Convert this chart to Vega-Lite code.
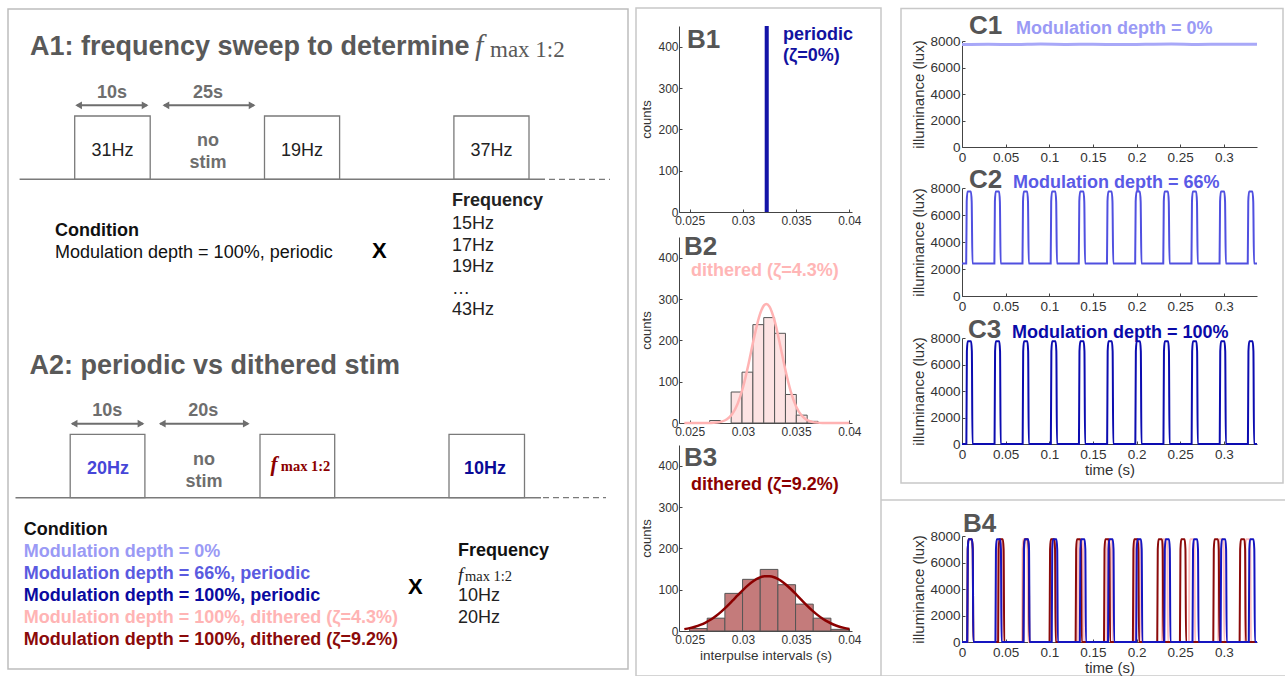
{
"$schema":"https://vega.github.io/schema/vega-lite/v6.json",
"background":"white",
"padding":{"left":7,"top":6,"right":0,"bottom":0},
"bounds":"flush","spacing":51,
"hconcat":[
{"width":620,"height":660,"view":{"stroke":"#bdbdbd","strokeWidth":1.5},"data":{"values":[{}]},
"layer":[
{"mark":{"type":"rect","filled":false,"stroke":"#c8c8c8","strokeWidth":1.5},"encoding":{"x":{"datum":62.8,"type":"quantitative","scale":{"domain":[0,62],"nice":false,"zero":false},"axis":null},"x2":{"datum":87.3},"y":{"datum":-0.1,"type":"quantitative","scale":{"domain":[0,66],"reverse":true,"nice":false,"zero":false},"axis":null},"y2":{"datum":66.7}}},
{"mark":{"type":"rule","stroke":"#c8c8c8","strokeWidth":1.5},"encoding":{"x":{"datum":87.3,"axis":null},"x2":{"datum":127.7},"y":{"datum":49.1,"axis":null}}},
{"mark":{"type":"rule","stroke":"#c8c8c8","strokeWidth":1.5},"encoding":{"x":{"datum":87.3,"axis":null},"x2":{"datum":127.7},"y":{"datum":66.7,"axis":null}}},
{"mark":{"type":"rect","filled":false,"stroke":"#c8c8c8","strokeWidth":1.5},"encoding":{"x":{"datum":89.3,"axis":null},"x2":{"datum":127.5},"y":{"datum":-0.05,"axis":null},"y2":{"datum":47.4}}},

{"mark":{"type":"text","text":"A1: frequency sweep to determine","fontSize":27,"fontWeight":"bold","color":"#595959"},"encoding":{"x":{"datum":2.2,"axis":null},"y":{"datum":4.55,"axis":null}}},
{"mark":{"type":"text","text":"f","font":"Liberation Serif","fontStyle":"italic","fontSize":30,"color":"#595959"},"encoding":{"x":{"datum":46.7,"axis":null},"y":{"datum":4.55,"axis":null}}},
{"mark":{"type":"text","text":"max 1:2","font":"Liberation Serif","fontSize":23,"color":"#595959"},"encoding":{"x":{"datum":48.2,"axis":null},"y":{"datum":4.75,"axis":null}}},
{"mark":{"type":"text","text":"10s","fontSize":18,"fontWeight":"bold","color":"#6e6e6e","align":"center"},"encoding":{"x":{"datum":10.4,"axis":null},"y":{"datum":8.9,"axis":null}}},
{"mark":{"type":"text","text":"25s","fontSize":18,"fontWeight":"bold","color":"#6e6e6e","align":"center"},"encoding":{"x":{"datum":20.0,"axis":null},"y":{"datum":8.9,"axis":null}}},
{"mark":{"type":"rule","stroke":"#6e6e6e","strokeWidth":2},"encoding":{"x":{"datum":6.9,"axis":null},"x2":{"datum":13.9},"y":{"datum":9.63,"axis":null}}},
{"mark":{"type":"point","shape":"triangle-left","filled":true,"color":"#6e6e6e","size":60,"opacity":1},"encoding":{"x":{"datum":7.06,"axis":null},"y":{"datum":9.63,"axis":null}}},
{"mark":{"type":"point","shape":"triangle-right","filled":true,"color":"#6e6e6e","size":60,"opacity":1},"encoding":{"x":{"datum":13.71,"axis":null},"y":{"datum":9.63,"axis":null}}},
{"mark":{"type":"rule","stroke":"#6e6e6e","strokeWidth":2},"encoding":{"x":{"datum":15.6,"axis":null},"x2":{"datum":24.6},"y":{"datum":9.63,"axis":null}}},
{"mark":{"type":"point","shape":"triangle-left","filled":true,"color":"#6e6e6e","size":60,"opacity":1},"encoding":{"x":{"datum":15.79,"axis":null},"y":{"datum":9.63,"axis":null}}},
{"mark":{"type":"point","shape":"triangle-right","filled":true,"color":"#6e6e6e","size":60,"opacity":1},"encoding":{"x":{"datum":24.41,"axis":null},"y":{"datum":9.63,"axis":null}}},
{"mark":{"type":"rect","filled":false,"stroke":"#7a7a7a","strokeWidth":1.3},"encoding":{"x":{"datum":6.67,"axis":null},"x2":{"datum":14.22},"y":{"datum":10.7,"axis":null},"y2":{"datum":17.03}}},
{"mark":{"type":"rect","filled":false,"stroke":"#7a7a7a","strokeWidth":1.3},"encoding":{"x":{"datum":25.65,"axis":null},"x2":{"datum":33.16},"y":{"datum":10.7,"axis":null},"y2":{"datum":17.03}}},
{"mark":{"type":"rect","filled":false,"stroke":"#7a7a7a","strokeWidth":1.3},"encoding":{"x":{"datum":44.59,"axis":null},"x2":{"datum":52.1},"y":{"datum":10.7,"axis":null},"y2":{"datum":17.03}}},
{"mark":{"type":"text","text":"31Hz","fontSize":18,"color":"#222222","align":"center"},"encoding":{"x":{"datum":10.45,"axis":null},"y":{"datum":14.7,"axis":null}}},
{"mark":{"type":"text","text":"19Hz","fontSize":18,"color":"#222222","align":"center"},"encoding":{"x":{"datum":29.4,"axis":null},"y":{"datum":14.7,"axis":null}}},
{"mark":{"type":"text","text":"37Hz","fontSize":18,"color":"#222222","align":"center"},"encoding":{"x":{"datum":48.35,"axis":null},"y":{"datum":14.7,"axis":null}}},
{"mark":{"type":"text","text":"no","fontSize":18,"fontWeight":"bold","color":"#6e6e6e","align":"center"},"encoding":{"x":{"datum":20.0,"axis":null},"y":{"datum":13.7,"axis":null}}},
{"mark":{"type":"text","text":"stim","fontSize":18,"fontWeight":"bold","color":"#6e6e6e","align":"center"},"encoding":{"x":{"datum":20.0,"axis":null},"y":{"datum":15.9,"axis":null}}},
{"mark":{"type":"rule","stroke":"#7a7a7a","strokeWidth":1.5},"encoding":{"x":{"datum":1.16,"axis":null},"x2":{"datum":53.7},"y":{"datum":17.03,"axis":null}}},
{"mark":{"type":"rule","stroke":"#7a7a7a","strokeWidth":1.3,"strokeDash":[6,4]},"encoding":{"x":{"datum":54.1,"axis":null},"x2":{"datum":60.2},"y":{"datum":17.03,"axis":null}}},
{"mark":{"type":"text","text":"Frequency","fontSize":18,"fontWeight":"bold","color":"#222222"},"encoding":{"x":{"datum":44.4,"axis":null},"y":{"datum":19.7,"axis":null}}},
{"mark":{"type":"text","text":["15Hz","17Hz","19Hz","…","43Hz"],"lineHeight":21.5,"fontSize":18,"color":"#222222"},"encoding":{"x":{"datum":44.4,"axis":null},"y":{"datum":22.0,"axis":null}}},
{"mark":{"type":"text","text":"Condition","fontSize":18,"fontWeight":"bold","color":"#111111"},"encoding":{"x":{"datum":4.7,"axis":null},"y":{"datum":22.7,"axis":null}}},
{"mark":{"type":"text","text":"Modulation depth = 100%, periodic","fontSize":18,"color":"#111111"},"encoding":{"x":{"datum":4.7,"axis":null},"y":{"datum":24.85,"axis":null}}},
{"mark":{"type":"text","text":"X","fontSize":22,"fontWeight":"bold","color":"#000000"},"encoding":{"x":{"datum":36.4,"axis":null},"y":{"datum":24.9,"axis":null}}},

{"mark":{"type":"text","text":"A2: periodic vs dithered stim","fontSize":27,"fontWeight":"bold","color":"#595959"},"encoding":{"x":{"datum":2.14,"axis":null},"y":{"datum":36.53,"axis":null}}},
{"mark":{"type":"text","text":"10s","fontSize":18,"fontWeight":"bold","color":"#6e6e6e","align":"center"},"encoding":{"x":{"datum":9.93,"axis":null},"y":{"datum":40.7,"axis":null}}},
{"mark":{"type":"text","text":"20s","fontSize":18,"fontWeight":"bold","color":"#6e6e6e","align":"center"},"encoding":{"x":{"datum":19.53,"axis":null},"y":{"datum":40.7,"axis":null}}},
{"mark":{"type":"rule","stroke":"#6e6e6e","strokeWidth":2},"encoding":{"x":{"datum":6.4,"axis":null},"x2":{"datum":13.5},"y":{"datum":41.47,"axis":null}}},
{"mark":{"type":"point","shape":"triangle-left","filled":true,"color":"#6e6e6e","size":60,"opacity":1},"encoding":{"x":{"datum":6.61,"axis":null},"y":{"datum":41.47,"axis":null}}},
{"mark":{"type":"point","shape":"triangle-right","filled":true,"color":"#6e6e6e","size":60,"opacity":1},"encoding":{"x":{"datum":13.3,"axis":null},"y":{"datum":41.47,"axis":null}}},
{"mark":{"type":"rule","stroke":"#6e6e6e","strokeWidth":2},"encoding":{"x":{"datum":15.2,"axis":null},"x2":{"datum":24.0},"y":{"datum":41.47,"axis":null}}},
{"mark":{"type":"point","shape":"triangle-left","filled":true,"color":"#6e6e6e","size":60,"opacity":1},"encoding":{"x":{"datum":15.43,"axis":null},"y":{"datum":41.47,"axis":null}}},
{"mark":{"type":"point","shape":"triangle-right","filled":true,"color":"#6e6e6e","size":60,"opacity":1},"encoding":{"x":{"datum":23.83,"axis":null},"y":{"datum":41.47,"axis":null}}},
{"mark":{"type":"rect","filled":false,"stroke":"#7a7a7a","strokeWidth":1.3},"encoding":{"x":{"datum":6.22,"axis":null},"x2":{"datum":13.69},"y":{"datum":42.53,"axis":null},"y2":{"datum":48.87}}},
{"mark":{"type":"rect","filled":false,"stroke":"#7a7a7a","strokeWidth":1.3},"encoding":{"x":{"datum":25.2,"axis":null},"x2":{"datum":32.67},"y":{"datum":42.53,"axis":null},"y2":{"datum":48.87}}},
{"mark":{"type":"rect","filled":false,"stroke":"#7a7a7a","strokeWidth":1.3},"encoding":{"x":{"datum":44.1,"axis":null},"x2":{"datum":51.65},"y":{"datum":42.53,"axis":null},"y2":{"datum":48.87}}},
{"mark":{"type":"text","text":"20Hz","fontSize":18,"fontWeight":"bold","color":"#4646d8","align":"center"},"encoding":{"x":{"datum":10.0,"axis":null},"y":{"datum":46.5,"axis":null}}},
{"mark":{"type":"text","text":"no","fontSize":18,"fontWeight":"bold","color":"#6e6e6e","align":"center"},"encoding":{"x":{"datum":19.6,"axis":null},"y":{"datum":45.6,"axis":null}}},
{"mark":{"type":"text","text":"stim","fontSize":18,"fontWeight":"bold","color":"#6e6e6e","align":"center"},"encoding":{"x":{"datum":19.6,"axis":null},"y":{"datum":47.77,"axis":null}}},
{"mark":{"type":"text","text":"f","font":"Liberation Serif","fontStyle":"italic","fontWeight":"bold","fontSize":21,"color":"#8b0000"},"encoding":{"x":{"datum":26.26,"axis":null},"y":{"datum":46.2,"axis":null}}},
{"mark":{"type":"text","text":"max 1:2","font":"Liberation Serif","fontWeight":"bold","fontSize":14.5,"color":"#8b0000"},"encoding":{"x":{"datum":27.28,"axis":null},"y":{"datum":46.2,"axis":null}}},
{"mark":{"type":"text","text":"10Hz","fontSize":18,"fontWeight":"bold","color":"#0a0a96","align":"center"},"encoding":{"x":{"datum":47.7,"axis":null},"y":{"datum":46.5,"axis":null}}},
{"mark":{"type":"rule","stroke":"#7a7a7a","strokeWidth":1.5},"encoding":{"x":{"datum":0.75,"axis":null},"x2":{"datum":53.3},"y":{"datum":48.87,"axis":null}}},
{"mark":{"type":"rule","stroke":"#7a7a7a","strokeWidth":1.3,"strokeDash":[6,4]},"encoding":{"x":{"datum":53.5,"axis":null},"x2":{"datum":59.8},"y":{"datum":48.87,"axis":null}}},
{"mark":{"type":"text","text":"Condition","fontSize":18,"fontWeight":"bold","color":"#111111"},"encoding":{"x":{"datum":1.57,"axis":null},"y":{"datum":52.6,"axis":null}}},
{"mark":{"type":"text","text":"Modulation depth = 0%","fontSize":18,"fontWeight":"bold","color":"#9a9af5"},"encoding":{"x":{"datum":1.57,"axis":null},"y":{"datum":54.8,"axis":null}}},
{"mark":{"type":"text","text":"Modulation depth = 66%, periodic","fontSize":18,"fontWeight":"bold","color":"#5a5ae0"},"encoding":{"x":{"datum":1.57,"axis":null},"y":{"datum":57.0,"axis":null}}},
{"mark":{"type":"text","text":"Modulation depth = 100%, periodic","fontSize":18,"fontWeight":"bold","color":"#0a0aa0"},"encoding":{"x":{"datum":1.57,"axis":null},"y":{"datum":59.2,"axis":null}}},
{"mark":{"type":"text","text":"Modulation depth = 100%, dithered (ζ=4.3%)","fontSize":18,"fontWeight":"bold","color":"#ffb4b4"},"encoding":{"x":{"datum":1.57,"axis":null},"y":{"datum":61.4,"axis":null}}},
{"mark":{"type":"text","text":"Modulation depth = 100%, dithered (ζ=9.2%)","fontSize":18,"fontWeight":"bold","color":"#8b0a0a"},"encoding":{"x":{"datum":1.57,"axis":null},"y":{"datum":63.6,"axis":null}}},
{"mark":{"type":"text","text":"X","fontSize":22,"fontWeight":"bold","color":"#000000"},"encoding":{"x":{"datum":40.0,"axis":null},"y":{"datum":58.5,"axis":null}}},
{"mark":{"type":"text","text":"Frequency","fontSize":18,"fontWeight":"bold","color":"#111111"},"encoding":{"x":{"datum":45.0,"axis":null},"y":{"datum":54.67,"axis":null}}},
{"mark":{"type":"text","text":"f","font":"Liberation Serif","fontStyle":"italic","fontSize":19,"color":"#222222"},"encoding":{"x":{"datum":45.0,"axis":null},"y":{"datum":57.2,"axis":null}}},
{"mark":{"type":"text","text":"max 1:2","font":"Liberation Serif","fontSize":14.5,"color":"#222222"},"encoding":{"x":{"datum":45.7,"axis":null},"y":{"datum":57.2,"axis":null}}},
{"mark":{"type":"text","text":["10Hz","20Hz"],"lineHeight":21.7,"fontSize":18,"color":"#222222"},"encoding":{"x":{"datum":45.0,"axis":null},"y":{"datum":59.2,"axis":null}}}
]},

{"bounds":"flush","spacing":0,"vconcat":[
{"width":173,"height":17,"data":{"values":[]},"mark":"point"},
{"width":173,"height":186,"data":{"values":[{}]},
"layer":[
{"data":{"values":[{"lo":0.03205,"hi":0.03243,"count":1000}]},"mark":{"type":"rect","color":"#1414a8","clip":true},
"encoding":{"x":{"field":"lo","type":"quantitative","scale":{"domain":[0.024,0.04025],"nice":false,"zero":false},"axis":{"values":[0.025,0.03,0.035,0.04],"format":"~g","title":null,"labelFontSize":12,"labelPadding":6,"labelOverlap":false}},"x2":{"field":"hi"},
"y":{"field":"count","type":"quantitative","scale":{"domain":[0,450],"nice":false},"axis":{"values":[0,100,200,300,400],"title":"counts","titleFontSize":13,"labelFontSize":12,"labelPadding":4,"titlePadding":4,"labelOverlap":false}},"y2":{"datum":0}}},
{"mark":{"type":"text","text":"B1","fontSize":26,"fontWeight":"bold","color":"#555555"},"encoding":{"x":{"datum":0.02475,"axis":{"values":[0.025,0.03,0.035,0.04],"format":"~g","title":null,"labelFontSize":12,"labelPadding":6,"labelOverlap":false}},"y":{"datum":396.8,"axis":{"values":[0,100,200,300,400],"title":"counts","titleFontSize":13,"labelFontSize":12,"labelPadding":4,"titlePadding":4,"labelOverlap":false}}}},
{"mark":{"type":"text","text":"periodic","fontSize":18,"fontWeight":"bold","color":"#1212a0"},"encoding":{"x":{"datum":0.03377,"axis":{"values":[0.025,0.03,0.035,0.04],"format":"~g","title":null,"labelFontSize":12,"labelPadding":6,"labelOverlap":false}},"y":{"datum":417,"axis":{"values":[0,100,200,300,400],"title":"counts","titleFontSize":13,"labelFontSize":12,"labelPadding":4,"titlePadding":4,"labelOverlap":false}}}},
{"mark":{"type":"text","text":"(ζ=0%)","fontSize":18,"fontWeight":"bold","color":"#1212a0"},"encoding":{"x":{"datum":0.03377,"axis":{"values":[0.025,0.03,0.035,0.04],"format":"~g","title":null,"labelFontSize":12,"labelPadding":6,"labelOverlap":false}},"y":{"datum":365,"axis":{"values":[0,100,200,300,400],"title":"counts","titleFontSize":13,"labelFontSize":12,"labelPadding":4,"titlePadding":4,"labelOverlap":false}}}}
]},
{"width":173,"height":25,"data":{"values":[]},"mark":"point"},
{"width":173,"height":186,"data":{"values":[{}]},
"layer":[
{"data":{"values":[{"lo":0.02688,"hi":0.0279,"count":6},{"lo":0.0289,"hi":0.02992,"count":75},{"lo":0.02992,"hi":0.03094,"count":123},{"lo":0.03094,"hi":0.03196,"count":238},{"lo":0.03196,"hi":0.03298,"count":255},{"lo":0.03298,"hi":0.034,"count":217},{"lo":0.034,"hi":0.03502,"count":69},{"lo":0.03502,"hi":0.03604,"count":19},{"lo":0.03604,"hi":0.03706,"count":4}]},
"mark":{"type":"rect","fill":"#fde3e3","stroke":"#555555","strokeWidth":1},
"encoding":{"x":{"field":"lo","type":"quantitative","scale":{"domain":[0.024,0.04025],"nice":false,"zero":false},"axis":{"values":[0.025,0.03,0.035,0.04],"format":"~g","title":null,"labelFontSize":12,"labelPadding":6,"labelOverlap":false}},"x2":{"field":"hi"},
"y":{"field":"count","type":"quantitative","scale":{"domain":[0,450],"nice":false},"axis":{"values":[0,100,200,300,400],"title":"counts","titleFontSize":13,"labelFontSize":12,"labelPadding":4,"titlePadding":4,"labelOverlap":false}},"y2":{"datum":0}}},
{"data":{"values":[{"x":0.0245,"y":0},{"x":0.025,"y":0},{"x":0.026,"y":0.02},{"x":0.027,"y":0.3},{"x":0.0275,"y":1.1},{"x":0.028,"y":3.4},{"x":0.0285,"y":9.2},{"x":0.029,"y":21.9},{"x":0.0295,"y":46},{"x":0.03,"y":85.2},{"x":0.0305,"y":139.2},{"x":0.031,"y":200.5},{"x":0.0315,"y":254.6},{"x":0.032,"y":285.1},{"x":0.0322,"y":288},{"x":0.0325,"y":281.5},{"x":0.033,"y":245.2},{"x":0.0335,"y":188.3},{"x":0.034,"y":127.5},{"x":0.0345,"y":76.1},{"x":0.035,"y":40.1},{"x":0.0355,"y":18.6},{"x":0.036,"y":7.6},{"x":0.0365,"y":2.8},{"x":0.037,"y":0.9},{"x":0.0375,"y":0.25},{"x":0.038,"y":0.1},{"x":0.039,"y":0},{"x":0.04,"y":0}]},
"mark":{"type":"line","color":"#ffb3b3","strokeWidth":2.5,"interpolate":"monotone"},
"encoding":{"x":{"field":"x","type":"quantitative","axis":{"values":[0.025,0.03,0.035,0.04],"format":"~g","title":null,"labelFontSize":12,"labelPadding":6,"labelOverlap":false}},"y":{"field":"y","type":"quantitative","axis":{"values":[0,100,200,300,400],"title":"counts","titleFontSize":13,"labelFontSize":12,"labelPadding":4,"titlePadding":4,"labelOverlap":false}}}},
{"mark":{"type":"text","text":"B2","fontSize":26,"fontWeight":"bold","color":"#555555"},"encoding":{"x":{"datum":0.02447,"axis":{"values":[0.025,0.03,0.035,0.04],"format":"~g","title":null,"labelFontSize":12,"labelPadding":6,"labelOverlap":false}},"y":{"datum":406.5,"axis":{"values":[0,100,200,300,400],"title":"counts","titleFontSize":13,"labelFontSize":12,"labelPadding":4,"titlePadding":4,"labelOverlap":false}}}},
{"mark":{"type":"text","text":"dithered (ζ=4.3%)","fontSize":18,"fontWeight":"bold","color":"#ffb6b6"},"encoding":{"x":{"datum":0.02513,"axis":{"values":[0.025,0.03,0.035,0.04],"format":"~g","title":null,"labelFontSize":12,"labelPadding":6,"labelOverlap":false}},"y":{"datum":355.6,"axis":{"values":[0,100,200,300,400],"title":"counts","titleFontSize":13,"labelFontSize":12,"labelPadding":4,"titlePadding":4,"labelOverlap":false}}}}
]},
{"width":173,"height":22,"data":{"values":[]},"mark":"point"},
{"width":173,"height":186,"data":{"values":[{}]},
"layer":[
{"data":{"values":[{"lo":0.02499,"hi":0.02665,"count":6},{"lo":0.02665,"hi":0.02831,"count":31},{"lo":0.02831,"hi":0.02997,"count":91},{"lo":0.02997,"hi":0.03163,"count":125},{"lo":0.03163,"hi":0.03329,"count":149},{"lo":0.03329,"hi":0.03495,"count":112},{"lo":0.03495,"hi":0.03661,"count":65},{"lo":0.03661,"hi":0.03827,"count":31},{"lo":0.03827,"hi":0.03993,"count":4}]},
"mark":{"type":"rect","fill":"#c47b7b","stroke":"#555555","strokeWidth":1},
"encoding":{"x":{"field":"lo","type":"quantitative","scale":{"domain":[0.024,0.04025],"nice":false,"zero":false},"axis":{"values":[0.025,0.03,0.035,0.04],"format":"~g","title":"interpulse intervals (s)","titleFontSize":13.5,"titlePadding":3,"labelFontSize":12,"labelPadding":6,"labelOverlap":false}},"x2":{"field":"hi"},
"y":{"field":"count","type":"quantitative","scale":{"domain":[0,450],"nice":false},"axis":{"values":[0,100,200,300,400],"title":"counts","titleFontSize":13,"labelFontSize":12,"labelPadding":4,"titlePadding":4,"labelOverlap":false}},"y2":{"datum":0}}},
{"data":{"values":[{"x":0.0245,"y":4.5},{"x":0.025,"y":6.9},{"x":0.0255,"y":10.2},{"x":0.026,"y":14.7},{"x":0.0265,"y":20.5},{"x":0.027,"y":27.9},{"x":0.0275,"y":37.0},{"x":0.028,"y":47.6},{"x":0.0285,"y":59.6},{"x":0.029,"y":72.6},{"x":0.0295,"y":86.0},{"x":0.03,"y":99.1},{"x":0.0305,"y":111.1},{"x":0.031,"y":121.1},{"x":0.0315,"y":128.4},{"x":0.032,"y":132.3},{"x":0.0325,"y":132.7},{"x":0.033,"y":129.4},{"x":0.0335,"y":122.8},{"x":0.034,"y":113.3},{"x":0.0345,"y":101.6},{"x":0.035,"y":88.7},{"x":0.0355,"y":75.3},{"x":0.036,"y":62.2},{"x":0.0365,"y":49.9},{"x":0.037,"y":39.0},{"x":0.0375,"y":29.6},{"x":0.038,"y":21.9},{"x":0.0385,"y":15.7},{"x":0.039,"y":11.0},{"x":0.0395,"y":7.5},{"x":0.04,"y":4.9}]},
"mark":{"type":"line","color":"#8b0000","strokeWidth":2.5,"interpolate":"monotone"},
"encoding":{"x":{"field":"x","type":"quantitative","axis":{"values":[0.025,0.03,0.035,0.04],"format":"~g","title":"interpulse intervals (s)","titleFontSize":13.5,"titlePadding":3,"labelFontSize":12,"labelPadding":6,"labelOverlap":false}},"y":{"field":"y","type":"quantitative","axis":{"values":[0,100,200,300,400],"title":"counts","titleFontSize":13,"labelFontSize":12,"labelPadding":4,"titlePadding":4,"labelOverlap":false}}}},
{"mark":{"type":"text","text":"B3","fontSize":26,"fontWeight":"bold","color":"#555555"},"encoding":{"x":{"datum":0.02447,"axis":{"values":[0.025,0.03,0.035,0.04],"format":"~g","title":"interpulse intervals (s)","titleFontSize":13.5,"titlePadding":3,"labelFontSize":12,"labelPadding":6,"labelOverlap":false}},"y":{"datum":399,"axis":{"values":[0,100,200,300,400],"title":"counts","titleFontSize":13,"labelFontSize":12,"labelPadding":4,"titlePadding":4,"labelOverlap":false}}}},
{"mark":{"type":"text","text":"dithered (ζ=9.2%)","fontSize":18,"fontWeight":"bold","color":"#8b0000"},"encoding":{"x":{"datum":0.02513,"axis":{"values":[0.025,0.03,0.035,0.04],"format":"~g","title":"interpulse intervals (s)","titleFontSize":13.5,"titlePadding":3,"labelFontSize":12,"labelPadding":6,"labelOverlap":false}},"y":{"datum":341,"axis":{"values":[0,100,200,300,400],"title":"counts","titleFontSize":13,"labelFontSize":12,"labelPadding":4,"titlePadding":4,"labelOverlap":false}}}}
]}
]},

{"width":181,"height":1,"data":{"values":[]},"mark":"point"},

{"bounds":"flush","spacing":0,"vconcat":[
{"width":295,"height":32,"data":{"values":[]},"mark":"point"},
{"width":295,"height":106,"data":{"values":[{}]},
"layer":[
{"data":{"values":[{"t":0,"v":7740},{"t":0.03,"v":7760},{"t":0.06,"v":7730},{"t":0.09,"v":7765},{"t":0.12,"v":7740},{"t":0.15,"v":7760},{"t":0.18,"v":7730},{"t":0.21,"v":7750},{"t":0.24,"v":7770},{"t":0.27,"v":7740},{"t":0.3,"v":7760},{"t":0.338,"v":7750}]},
"mark":{"type":"line","color":"#a8a8f8","strokeWidth":3,"interpolate":"monotone"},
"encoding":{"x":{"field":"t","type":"quantitative","scale":{"domain":[0,0.338],"nice":false,"zero":false},"axis":{"values":[0,0.05,0.1,0.15,0.2,0.25,0.3],"format":"~g","title":null,"labelFontSize":13.5,"labelPadding":6,"labelOverlap":false}},
"y":{"field":"v","type":"quantitative","scale":{"domain":[0,8000],"nice":false},"axis":{"values":[0,2000,4000,6000,8000],"format":"d","title":"illuminance (lux)","titleFontSize":15,"labelFontSize":13.5,"labelPadding":5,"titlePadding":3,"labelOverlap":false}}}},
{"mark":{"type":"text","text":"C1","fontSize":26,"fontWeight":"bold","color":"#555555"},"encoding":{"x":{"datum":0.008,"axis":{"values":[0,0.05,0.1,0.15,0.2,0.25,0.3],"format":"~g","title":null,"labelFontSize":13.5,"labelPadding":6,"labelOverlap":false}},"y":{"datum":8528,"axis":{"values":[0,2000,4000,6000,8000],"format":"d","title":"illuminance (lux)","titleFontSize":15,"labelFontSize":13.5,"labelPadding":5,"titlePadding":3,"labelOverlap":false}}}},
{"mark":{"type":"text","text":"Modulation depth = 0%","fontSize":18,"fontWeight":"bold","color":"#9a9af5"},"encoding":{"x":{"datum":0.0619,"axis":{"values":[0,0.05,0.1,0.15,0.2,0.25,0.3],"format":"~g","title":null,"labelFontSize":13.5,"labelPadding":6,"labelOverlap":false}},"y":{"datum":8528,"axis":{"values":[0,2000,4000,6000,8000],"format":"d","title":"illuminance (lux)","titleFontSize":15,"labelFontSize":13.5,"labelPadding":5,"titlePadding":3,"labelOverlap":false}}}}
]},
{"width":295,"height":41,"data":{"values":[]},"mark":"point"},
{"width":295,"height":108,"data":{"values":[{}]},
"layer":[
{"data":{"values":[{"t":0,"v":2400},
{"t":0.0048,"v":2400},{"t":0.0054,"v":7000},{"t":0.0063,"v":7750},{"t":0.0102,"v":7750},{"t":0.0111,"v":7000},{"t":0.012,"v":2400},
{"t":0.0371,"v":2400},{"t":0.0377,"v":7000},{"t":0.0386,"v":7750},{"t":0.0425,"v":7750},{"t":0.0434,"v":7000},{"t":0.0443,"v":2400},
{"t":0.0693,"v":2400},{"t":0.0699,"v":7000},{"t":0.0708,"v":7750},{"t":0.0747,"v":7750},{"t":0.0756,"v":7000},{"t":0.0765,"v":2400},
{"t":0.1016,"v":2400},{"t":0.1022,"v":7000},{"t":0.1031,"v":7750},{"t":0.107,"v":7750},{"t":0.1079,"v":7000},{"t":0.1088,"v":2400},
{"t":0.1338,"v":2400},{"t":0.1344,"v":7000},{"t":0.1353,"v":7750},{"t":0.1392,"v":7750},{"t":0.1401,"v":7000},{"t":0.141,"v":2400},
{"t":0.1661,"v":2400},{"t":0.1667,"v":7000},{"t":0.1676,"v":7750},{"t":0.1715,"v":7750},{"t":0.1724,"v":7000},{"t":0.1733,"v":2400},
{"t":0.1984,"v":2400},{"t":0.199,"v":7000},{"t":0.1999,"v":7750},{"t":0.2038,"v":7750},{"t":0.2047,"v":7000},{"t":0.2056,"v":2400},
{"t":0.2306,"v":2400},{"t":0.2312,"v":7000},{"t":0.2321,"v":7750},{"t":0.236,"v":7750},{"t":0.2369,"v":7000},{"t":0.2378,"v":2400},
{"t":0.2629,"v":2400},{"t":0.2635,"v":7000},{"t":0.2644,"v":7750},{"t":0.2683,"v":7750},{"t":0.2692,"v":7000},{"t":0.2701,"v":2400},
{"t":0.2951,"v":2400},{"t":0.2957,"v":7000},{"t":0.2966,"v":7750},{"t":0.3005,"v":7750},{"t":0.3014,"v":7000},{"t":0.3023,"v":2400},
{"t":0.3274,"v":2400},{"t":0.328,"v":7000},{"t":0.3289,"v":7750},{"t":0.3328,"v":7750},{"t":0.3337,"v":7000},{"t":0.3346,"v":2400},
{"t":0.338,"v":2400}]},
"mark":{"type":"line","color":"#5050e0","strokeWidth":2,"interpolate":"monotone"},
"encoding":{"x":{"field":"t","type":"quantitative","scale":{"domain":[0,0.338],"nice":false,"zero":false},"axis":{"values":[0,0.05,0.1,0.15,0.2,0.25,0.3],"format":"~g","title":null,"labelFontSize":13.5,"labelPadding":6,"labelOverlap":false}},
"y":{"field":"v","type":"quantitative","scale":{"domain":[0,8000],"nice":false},"axis":{"values":[0,2000,4000,6000,8000],"format":"d","title":"illuminance (lux)","titleFontSize":15,"labelFontSize":13.5,"labelPadding":5,"titlePadding":3,"labelOverlap":false}}}},
{"mark":{"type":"text","text":"C2","fontSize":26,"fontWeight":"bold","color":"#555555"},"encoding":{"x":{"datum":0.008,"axis":{"values":[0,0.05,0.1,0.15,0.2,0.25,0.3],"format":"~g","title":null,"labelFontSize":13.5,"labelPadding":6,"labelOverlap":false}},"y":{"datum":8000,"axis":{"values":[0,2000,4000,6000,8000],"format":"d","title":"illuminance (lux)","titleFontSize":15,"labelFontSize":13.5,"labelPadding":5,"titlePadding":3,"labelOverlap":false}}}},
{"mark":{"type":"text","text":"Modulation depth = 66%","fontSize":18,"fontWeight":"bold","color":"#5a5ae6"},"encoding":{"x":{"datum":0.0584,"axis":{"values":[0,0.05,0.1,0.15,0.2,0.25,0.3],"format":"~g","title":null,"labelFontSize":13.5,"labelPadding":6,"labelOverlap":false}},"y":{"datum":8000,"axis":{"values":[0,2000,4000,6000,8000],"format":"d","title":"illuminance (lux)","titleFontSize":15,"labelFontSize":13.5,"labelPadding":5,"titlePadding":3,"labelOverlap":false}}}}
]},
{"width":295,"height":42,"data":{"values":[]},"mark":"point"},
{"width":295,"height":106,"data":{"values":[{}]},
"layer":[
{"data":{"values":[{"t":0,"v":0},
{"t":0.005,"v":0},{"t":0.0056,"v":7000},{"t":0.0065,"v":7750},{"t":0.0104,"v":7750},{"t":0.0113,"v":7000},{"t":0.012,"v":0},
{"t":0.0373,"v":0},{"t":0.0379,"v":7000},{"t":0.0388,"v":7750},{"t":0.0427,"v":7750},{"t":0.0436,"v":7000},{"t":0.0443,"v":0},
{"t":0.0695,"v":0},{"t":0.0701,"v":7000},{"t":0.071,"v":7750},{"t":0.0749,"v":7750},{"t":0.0758,"v":7000},{"t":0.0765,"v":0},
{"t":0.1018,"v":0},{"t":0.1024,"v":7000},{"t":0.1033,"v":7750},{"t":0.1072,"v":7750},{"t":0.1081,"v":7000},{"t":0.1088,"v":0},
{"t":0.134,"v":0},{"t":0.1346,"v":7000},{"t":0.1355,"v":7750},{"t":0.1394,"v":7750},{"t":0.1403,"v":7000},{"t":0.141,"v":0},
{"t":0.1663,"v":0},{"t":0.1669,"v":7000},{"t":0.1678,"v":7750},{"t":0.1717,"v":7750},{"t":0.1726,"v":7000},{"t":0.1733,"v":0},
{"t":0.1986,"v":0},{"t":0.1992,"v":7000},{"t":0.2001,"v":7750},{"t":0.204,"v":7750},{"t":0.2049,"v":7000},{"t":0.2056,"v":0},
{"t":0.2308,"v":0},{"t":0.2314,"v":7000},{"t":0.2323,"v":7750},{"t":0.2362,"v":7750},{"t":0.2371,"v":7000},{"t":0.2378,"v":0},
{"t":0.2631,"v":0},{"t":0.2637,"v":7000},{"t":0.2646,"v":7750},{"t":0.2685,"v":7750},{"t":0.2694,"v":7000},{"t":0.2701,"v":0},
{"t":0.2953,"v":0},{"t":0.2959,"v":7000},{"t":0.2968,"v":7750},{"t":0.3007,"v":7750},{"t":0.3016,"v":7000},{"t":0.3023,"v":0},
{"t":0.3276,"v":0},{"t":0.3282,"v":7000},{"t":0.3291,"v":7750},{"t":0.333,"v":7750},{"t":0.3339,"v":7000},{"t":0.3346,"v":0},
{"t":0.338,"v":0}]},
"mark":{"type":"line","color":"#0c0cb0","strokeWidth":2,"interpolate":"monotone"},
"encoding":{"x":{"field":"t","type":"quantitative","scale":{"domain":[0,0.338],"nice":false,"zero":false},"axis":{"values":[0,0.05,0.1,0.15,0.2,0.25,0.3],"format":"~g","title":"time (s)","titleFontSize":15,"titlePadding":2,"labelFontSize":13.5,"labelPadding":6,"labelOverlap":false}},
"y":{"field":"v","type":"quantitative","scale":{"domain":[0,8000],"nice":false},"axis":{"values":[0,2000,4000,6000,8000],"format":"d","title":"illuminance (lux)","titleFontSize":15,"labelFontSize":13.5,"labelPadding":5,"titlePadding":3,"labelOverlap":false}}}},
{"mark":{"type":"text","text":"C3","fontSize":26,"fontWeight":"bold","color":"#555555"},"encoding":{"x":{"datum":0.0069,"axis":{"values":[0,0.05,0.1,0.15,0.2,0.25,0.3],"format":"~g","title":"time (s)","titleFontSize":15,"titlePadding":2,"labelFontSize":13.5,"labelPadding":6,"labelOverlap":false}},"y":{"datum":8000,"axis":{"values":[0,2000,4000,6000,8000],"format":"d","title":"illuminance (lux)","titleFontSize":15,"labelFontSize":13.5,"labelPadding":5,"titlePadding":3,"labelOverlap":false}}}},
{"mark":{"type":"text","text":"Modulation depth = 100%","fontSize":18,"fontWeight":"bold","color":"#0a0aa8"},"encoding":{"x":{"datum":0.0573,"axis":{"values":[0,0.05,0.1,0.15,0.2,0.25,0.3],"format":"~g","title":"time (s)","titleFontSize":15,"titlePadding":2,"labelFontSize":13.5,"labelPadding":6,"labelOverlap":false}},"y":{"datum":8000,"axis":{"values":[0,2000,4000,6000,8000],"format":"d","title":"illuminance (lux)","titleFontSize":15,"labelFontSize":13.5,"labelPadding":5,"titlePadding":3,"labelOverlap":false}}}}
]},
{"width":295,"height":92,"data":{"values":[]},"mark":"point"},
{"width":295,"height":106,"data":{"values":[{}]},
"layer":[
{"data":{"values":[{"t":0,"v":0},
{"t":0.006,"v":0},{"t":0.0066,"v":7000},{"t":0.0075,"v":7750},{"t":0.0114,"v":7750},{"t":0.0123,"v":7000},{"t":0.013,"v":0},
{"t":0.0398,"v":0},{"t":0.0404,"v":7000},{"t":0.0413,"v":7750},{"t":0.0452,"v":7750},{"t":0.0461,"v":7000},{"t":0.0468,"v":0},
{"t":0.0688,"v":0},{"t":0.0694,"v":7000},{"t":0.0703,"v":7750},{"t":0.0742,"v":7750},{"t":0.0751,"v":7000},{"t":0.0758,"v":0},
{"t":0.1012,"v":0},{"t":0.1018,"v":7000},{"t":0.1027,"v":7750},{"t":0.1066,"v":7750},{"t":0.1075,"v":7000},{"t":0.1082,"v":0},
{"t":0.1325,"v":0},{"t":0.1331,"v":7000},{"t":0.134,"v":7750},{"t":0.1379,"v":7750},{"t":0.1388,"v":7000},{"t":0.1395,"v":0},
{"t":0.1655,"v":0},{"t":0.1661,"v":7000},{"t":0.167,"v":7750},{"t":0.1709,"v":7750},{"t":0.1718,"v":7000},{"t":0.1725,"v":0},
{"t":0.198,"v":0},{"t":0.1986,"v":7000},{"t":0.1995,"v":7750},{"t":0.2034,"v":7750},{"t":0.2043,"v":7000},{"t":0.205,"v":0},
{"t":0.229,"v":0},{"t":0.2296,"v":7000},{"t":0.2305,"v":7750},{"t":0.2344,"v":7750},{"t":0.2353,"v":7000},{"t":0.236,"v":0},
{"t":0.26,"v":0},{"t":0.2606,"v":7000},{"t":0.2615,"v":7750},{"t":0.2654,"v":7750},{"t":0.2663,"v":7000},{"t":0.267,"v":0},
{"t":0.2935,"v":0},{"t":0.2941,"v":7000},{"t":0.295,"v":7750},{"t":0.2989,"v":7750},{"t":0.2998,"v":7000},{"t":0.3005,"v":0},
{"t":0.324,"v":0},{"t":0.3246,"v":7000},{"t":0.3255,"v":7750},{"t":0.3294,"v":7750},{"t":0.3303,"v":7000},{"t":0.331,"v":0},
{"t":0.338,"v":0}]},
"mark":{"type":"line","color":"#ffc0c0","strokeWidth":2,"interpolate":"monotone"},
"encoding":{"x":{"field":"t","type":"quantitative","scale":{"domain":[0,0.338],"nice":false,"zero":false},"axis":{"values":[0,0.05,0.1,0.15,0.2,0.25,0.3],"format":"~g","title":"time (s)","titleFontSize":15,"titlePadding":2,"labelFontSize":13.5,"labelPadding":6,"labelOverlap":false}},
"y":{"field":"v","type":"quantitative","scale":{"domain":[0,8000],"nice":false},"axis":{"values":[0,2000,4000,6000,8000],"format":"d","title":"illuminance (lux)","titleFontSize":15,"labelFontSize":13.5,"labelPadding":5,"titlePadding":3,"labelOverlap":false}}}},
{"data":{"values":[{"t":0,"v":0},
{"t":0.006,"v":0},{"t":0.0066,"v":7000},{"t":0.0075,"v":7750},{"t":0.0114,"v":7750},{"t":0.0123,"v":7000},{"t":0.013,"v":0},
{"t":0.0414,"v":0},{"t":0.042,"v":7000},{"t":0.0429,"v":7750},{"t":0.0468,"v":7750},{"t":0.0477,"v":7000},{"t":0.0484,"v":0},
{"t":0.0702,"v":0},{"t":0.0708,"v":7000},{"t":0.0717,"v":7750},{"t":0.0756,"v":7750},{"t":0.0765,"v":7000},{"t":0.0772,"v":0},
{"t":0.1003,"v":0},{"t":0.1009,"v":7000},{"t":0.1018,"v":7750},{"t":0.1057,"v":7750},{"t":0.1066,"v":7000},{"t":0.1073,"v":0},
{"t":0.1302,"v":0},{"t":0.1308,"v":7000},{"t":0.1317,"v":7750},{"t":0.1356,"v":7750},{"t":0.1365,"v":7000},{"t":0.1372,"v":0},
{"t":0.1627,"v":0},{"t":0.1633,"v":7000},{"t":0.1642,"v":7750},{"t":0.1681,"v":7750},{"t":0.169,"v":7000},{"t":0.1697,"v":0},
{"t":0.1958,"v":0},{"t":0.1964,"v":7000},{"t":0.1973,"v":7750},{"t":0.2012,"v":7750},{"t":0.2021,"v":7000},{"t":0.2028,"v":0},
{"t":0.2237,"v":0},{"t":0.2243,"v":7000},{"t":0.2252,"v":7750},{"t":0.2291,"v":7750},{"t":0.23,"v":7000},{"t":0.2307,"v":0},
{"t":0.2497,"v":0},{"t":0.2503,"v":7000},{"t":0.2512,"v":7750},{"t":0.2551,"v":7750},{"t":0.256,"v":7000},{"t":0.2567,"v":0},
{"t":0.2879,"v":0},{"t":0.2885,"v":7000},{"t":0.2894,"v":7750},{"t":0.2933,"v":7750},{"t":0.2942,"v":7000},{"t":0.2949,"v":0},
{"t":0.3181,"v":0},{"t":0.3187,"v":7000},{"t":0.3196,"v":7750},{"t":0.3235,"v":7750},{"t":0.3244,"v":7000},{"t":0.3251,"v":0},
{"t":0.338,"v":0}]},
"mark":{"type":"line","color":"#8b0a0a","strokeWidth":2,"interpolate":"monotone"},
"encoding":{"x":{"field":"t","type":"quantitative","axis":{"values":[0,0.05,0.1,0.15,0.2,0.25,0.3],"format":"~g","title":"time (s)","titleFontSize":15,"titlePadding":2,"labelFontSize":13.5,"labelPadding":6,"labelOverlap":false}},"y":{"field":"v","type":"quantitative","axis":{"values":[0,2000,4000,6000,8000],"format":"d","title":"illuminance (lux)","titleFontSize":15,"labelFontSize":13.5,"labelPadding":5,"titlePadding":3,"labelOverlap":false}}}},
{"data":{"values":[{"t":0,"v":0},
{"t":0.006,"v":0},{"t":0.0066,"v":7000},{"t":0.0075,"v":7750},{"t":0.0114,"v":7750},{"t":0.0123,"v":7000},{"t":0.013,"v":0},
{"t":0.0383,"v":0},{"t":0.0389,"v":7000},{"t":0.0398,"v":7750},{"t":0.0437,"v":7750},{"t":0.0446,"v":7000},{"t":0.0453,"v":0},
{"t":0.0705,"v":0},{"t":0.0711,"v":7000},{"t":0.072,"v":7750},{"t":0.0759,"v":7750},{"t":0.0768,"v":7000},{"t":0.0775,"v":0},
{"t":0.1028,"v":0},{"t":0.1034,"v":7000},{"t":0.1043,"v":7750},{"t":0.1082,"v":7750},{"t":0.1091,"v":7000},{"t":0.1098,"v":0},
{"t":0.135,"v":0},{"t":0.1356,"v":7000},{"t":0.1365,"v":7750},{"t":0.1404,"v":7750},{"t":0.1413,"v":7000},{"t":0.142,"v":0},
{"t":0.1673,"v":0},{"t":0.1679,"v":7000},{"t":0.1688,"v":7750},{"t":0.1727,"v":7750},{"t":0.1736,"v":7000},{"t":0.1743,"v":0},
{"t":0.1996,"v":0},{"t":0.2002,"v":7000},{"t":0.2011,"v":7750},{"t":0.205,"v":7750},{"t":0.2059,"v":7000},{"t":0.2066,"v":0},
{"t":0.2318,"v":0},{"t":0.2324,"v":7000},{"t":0.2333,"v":7750},{"t":0.2372,"v":7750},{"t":0.2381,"v":7000},{"t":0.2388,"v":0},
{"t":0.2641,"v":0},{"t":0.2647,"v":7000},{"t":0.2656,"v":7750},{"t":0.2695,"v":7750},{"t":0.2704,"v":7000},{"t":0.2711,"v":0},
{"t":0.2963,"v":0},{"t":0.2969,"v":7000},{"t":0.2978,"v":7750},{"t":0.3017,"v":7750},{"t":0.3026,"v":7000},{"t":0.3033,"v":0},
{"t":0.3286,"v":0},{"t":0.3292,"v":7000},{"t":0.3301,"v":7750},{"t":0.334,"v":7750},{"t":0.3349,"v":7000},{"t":0.3356,"v":0},
{"t":0.338,"v":0}]},
"mark":{"type":"line","color":"#1515c0","strokeWidth":2,"interpolate":"monotone"},
"encoding":{"x":{"field":"t","type":"quantitative","axis":{"values":[0,0.05,0.1,0.15,0.2,0.25,0.3],"format":"~g","title":"time (s)","titleFontSize":15,"titlePadding":2,"labelFontSize":13.5,"labelPadding":6,"labelOverlap":false}},"y":{"field":"v","type":"quantitative","axis":{"values":[0,2000,4000,6000,8000],"format":"d","title":"illuminance (lux)","titleFontSize":15,"labelFontSize":13.5,"labelPadding":5,"titlePadding":3,"labelOverlap":false}}}},
{"mark":{"type":"text","text":"B4","fontSize":26,"fontWeight":"bold","color":"#555555"},"encoding":{"x":{"datum":0.0011,"axis":{"values":[0,0.05,0.1,0.15,0.2,0.25,0.3],"format":"~g","title":"time (s)","titleFontSize":15,"titlePadding":2,"labelFontSize":13.5,"labelPadding":6,"labelOverlap":false}},"y":{"datum":8302,"axis":{"values":[0,2000,4000,6000,8000],"format":"d","title":"illuminance (lux)","titleFontSize":15,"labelFontSize":13.5,"labelPadding":5,"titlePadding":3,"labelOverlap":false}}}}
]}
]}
],
"config":{
"font":"Liberation Sans",
"view":{"stroke":null},
"text":{"baseline":"alphabetic","align":"left","font":"Liberation Sans"},
"axis":{"grid":false,"labelFont":"Liberation Sans","titleFont":"Liberation Sans","labelColor":"#333333","titleColor":"#333333","domainColor":"#444444","tickColor":"#444444","titleFontWeight":"normal","labelFlush":false,"labelOverlap":false,"tickSize":-3,"domainWidth":1,"tickWidth":1}
}
}
